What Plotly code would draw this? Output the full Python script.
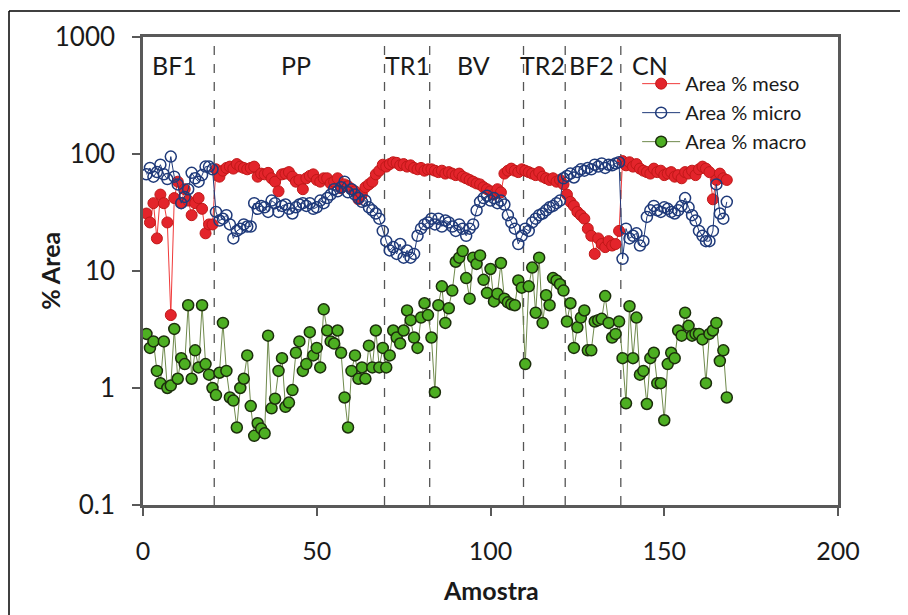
import plotly.graph_objects as go

# ---------------- data ----------------
# % area of mesopores per sample, by zone
meso_bf1 = [31, 26, 38, 19, 45, 38, 26, 4.2, 42, 58, 38, 50, 40, 30, 38, 42, 34, 21, 25, 25]
meso_pp = [74, 64, 72, 76, 78, 75, 82, 78, 76, 74, 76, 78, 64, 68, 67, 69, 62, 58, 48, 67,
           68, 70, 64, 58, 60, 50, 62, 65, 67, 60, 58, 62, 62, 56, 58, 62, 51, 55, 53, 50,
           48, 41, 45, 52, 55, 58, 67, 72, 81]
meso_tr1 = [78, 82, 85, 84, 80, 82, 78, 80, 76, 74, 76, 72, 74]
meso_bv = [74, 72, 70, 72, 68, 70, 68, 66, 68, 64, 62, 60, 58, 56, 55, 52, 50, 48, 45, 50,
           47, 68, 72, 75, 72, 70, 74]
meso_tr2 = [72, 70, 68, 66, 70, 64, 62, 60, 62, 58, 60, 55]
meso_bf2 = [45, 39, 36, 32, 30, 28, 23, 20, 14, 19, 17, 16, 18, 16.5, 17, 22]
meso_cn = [87, 80, 85, 78, 82, 75, 72, 70, 68, 75, 70, 72, 66, 68, 70, 64, 66, 62, 70, 68,
           72, 66, 74, 78, 75, 70, 41, 60, 68, 62, 60]

# % area of micropores
micro_bf1 = [67, 76, 64, 70, 81, 67, 61, 95, 64, 55, 38, 43, 50, 69, 62, 58, 66, 78, 78, 74]
micro_pp = [32, 27, 28, 30, 25, 19, 22, 23, 25, 24, 24, 38, 34, 36, 35, 32, 40, 38, 32, 36,
            37, 34, 31, 35, 37, 38, 36, 38, 34, 35, 40, 38, 42, 45, 50, 48, 52, 58, 47, 50,
            45, 42, 39, 40, 35, 33, 31, 28, 22]
micro_tr1 = [18, 15, 16, 14, 17, 13, 15, 13, 14, 20, 23, 25, 26]
micro_bv = [28, 25, 28, 24, 27, 26, 24, 22, 25, 23, 20, 23, 25, 33, 39, 42, 44, 40, 42, 38,
            40, 37, 30, 26, 23, 17, 20]
micro_tr2 = [23, 22, 26, 28, 30, 31, 33, 35, 36, 38, 40, 62]
micro_bf2 = [65, 68, 63, 70, 74, 72, 76, 74, 81, 78, 83, 76, 81, 80, 83, 85]
micro_cn = [12.7, 23, 19, 20, 21, 16.5, 18, 29, 33, 36, 33, 32, 35, 34, 32, 31, 33, 36, 42, 35,
            30, 27, 22, 20, 18, 18, 22, 55, 31, 28, 39]

# % area of macropores
macro_bf1 = [2.9, 2.2, 2.5, 1.4, 1.1, 2.5, 1.0, 1.05, 3.2, 1.2, 1.8, 1.6, 5.1, 1.2, 2.1, 1.5,
             5.1, 1.6, 1.3, 1.0]
macro_pp = [0.87, 1.35, 3.6, 1.4, 0.83, 0.78, 0.46, 1.0, 1.2, 1.9, 0.7, 0.39, 0.5, 0.45, 0.41,
            2.8, 0.67, 0.81, 1.4, 1.8, 0.69, 0.75, 0.96, 2.0, 2.5, 1.4, 1.6, 3.0, 1.9, 2.2,
            1.5, 4.7, 3.1, 2.5, 2.4, 3.1, 2.0, 0.83, 0.46, 1.4, 1.9, 1.2, 1.5, 1.2, 2.3, 1.5,
            3.1, 1.5, 2.2]
macro_tr1 = [1.5, 1.9, 3.1, 2.7, 2.4, 3.1, 4.6, 3.8, 2.7, 2.2, 4.0, 5.3, 4.2]
macro_bv = [2.7, 0.92, 5.1, 7.4, 3.6, 4.8, 6.8, 12, 13, 14.8, 8.7, 5.8, 13, 11.5, 13.6, 8.4,
            6.5, 10.4, 5.5, 6.4, 11.7, 5.8, 5.4, 5.2, 5.1, 8.3, 7.2]
macro_tr2 = [1.6, 7.4, 10.7, 4.4, 13, 3.6, 6.2, 5.1, 8.7, 8.3, 7.7, 6.8]
macro_bf2 = [3.7, 5.3, 2.2, 3.3, 4.0, 4.6, 2.1, 2.1, 3.7, 3.8, 3.9, 6.1, 3.6, 2.7, 2.9, 3.7]
macro_cn = [1.8, 0.74, 5.0, 1.8, 4.0, 1.3, 1.4, 0.73, 1.8, 2.0, 1.1, 1.1, 0.53, 1.6, 2.0, 1.8,
            3.1, 2.8, 4.4, 3.4, 2.8, 2.9, 2.9, 2.6, 1.1, 2.9, 3.1, 3.6, 1.7, 2.1, 0.83]

meso = meso_bf1 + meso_pp + meso_tr1 + meso_bv + meso_tr2 + meso_bf2 + meso_cn
micro = micro_bf1 + micro_pp + micro_tr1 + micro_bv + micro_tr2 + micro_bf2 + micro_cn
macro = macro_bf1 + macro_pp + macro_tr1 + macro_bv + macro_tr2 + macro_bf2 + macro_cn
samples = list(range(1, len(meso) + 1))

zone_names = ["BF1", "PP", "TR1", "BV", "TR2", "BF2", "CN"]
zone_label_x = [9, 44, 76, 95, 115, 129, 146]
zone_bounds = [20.5, 69.5, 82.5, 109.5, 121.5, 137.5]

x_ticks = [0, 50, 100, 150, 200]
y_ticks = [0.1, 1, 10, 100, 1000]
y_tick_text = ["0.1", "1", "10", "100", "1000"]

# ---------------- figure ----------------
FONT = "Lato"
ML, MT, PW, PH = 135, 27, 695, 470   # plot area placement (page body adds 8px offset)
W, H = 908, 615

fig = go.Figure()
fig.add_trace(go.Scatter(
    x=samples[:len(meso)], y=meso, mode="lines+markers", name="Area % meso",
    line=dict(color="#F03A3A", width=1),
    marker=dict(symbol="circle", size=11, color="#E3242B", line=dict(color="#C01818", width=1))))
fig.add_trace(go.Scatter(
    x=samples[:len(micro)], y=micro, mode="lines+markers", name="Area % micro",
    line=dict(color="#1F3A7A", width=1),
    marker=dict(symbol="circle-open", size=11, color="#1F3A7A", line=dict(width=1.5))))
fig.add_trace(go.Scatter(
    x=samples[:len(macro)], y=macro, mode="lines+markers", name="Area % macro",
    line=dict(color="#6F8A4C", width=1),
    marker=dict(symbol="circle", size=11, color="#4DAF22", line=dict(color="#1C2E0C", width=1.5))))

shapes = []
for b in zone_bounds:
    shapes.append(dict(type="line", xref="x", yref="paper", x0=b, x1=b, y0=0, y1=1,
                       line=dict(color="#555555", width=1.3, dash="dash"), layer="below"))
# outer chart-area border (top and left visible)
bx = (1 - ML) / PW
by = (MT + PH - 1) / PH
shapes.append(dict(type="line", xref="paper", yref="paper", x0=bx, x1=1.2, y0=by, y1=by,
                   line=dict(color="#000000", width=1.5)))
shapes.append(dict(type="line", xref="paper", yref="paper", x0=bx, x1=bx, y0=by, y1=-0.3,
                   line=dict(color="#000000", width=1.5)))

annotations = []
for name, lx in zip(zone_names, zone_label_x):
    annotations.append(dict(x=lx, y=0.94, xref="x", yref="paper", text=name, showarrow=False,
                            font=dict(family=FONT, size=25, color="#1a1a1a"),
                            xanchor="center", yanchor="middle"))
annotations.append(dict(x=-0.134, y=0.5, xref="paper", yref="paper", text="<b>% Area</b>",
                        textangle=-90, showarrow=False,
                        font=dict(family=FONT, size=25, color="#1a1a1a"),
                        xanchor="center", yanchor="middle"))
annotations.append(dict(x=0.5, y=-0.181, xref="paper", yref="paper", text="<b>Amostra</b>",
                        showarrow=False, font=dict(family=FONT, size=25, color="#1a1a1a"),
                        xanchor="center", yanchor="middle"))

fig.update_layout(
    width=W, height=H,
    margin=dict(l=ML, r=W - ML - PW, t=MT, b=H - MT - PH),
    paper_bgcolor="white", plot_bgcolor="white",
    font=dict(family=FONT, color="#1a1a1a"),
    showlegend=True,
    legend=dict(x=0.711, y=0.942, xanchor="left", yanchor="top",
                font=dict(family=FONT, size=20, color="#1a1a1a"),
                itemwidth=38,
                bgcolor="rgba(0,0,0,0)", tracegroupgap=0),
    shapes=shapes,
    annotations=annotations,
)
fig.update_xaxes(range=[0, 200], tickvals=x_ticks, showgrid=False, zeroline=False,
                 showline=True, mirror=True, linecolor="#595959", linewidth=2.5,
                 ticks="outside", ticklen=8, tickwidth=1.5, tickcolor="#595959",
                 tickfont=dict(family=FONT, size=25, color="#1a1a1a"), ticklabelstandoff=14)
fig.update_yaxes(type="log", range=[-1, 3], tickvals=y_ticks, ticktext=y_tick_text,
                 showgrid=False, zeroline=False,
                 showline=True, mirror=True, linecolor="#595959", linewidth=2.5,
                 ticks="outside", ticklen=8, tickwidth=1.5, tickcolor="#595959",
                 tickfont=dict(family=FONT, size=26, color="#1a1a1a"), ticklabelstandoff=12)

fig.write_html("out.html")
